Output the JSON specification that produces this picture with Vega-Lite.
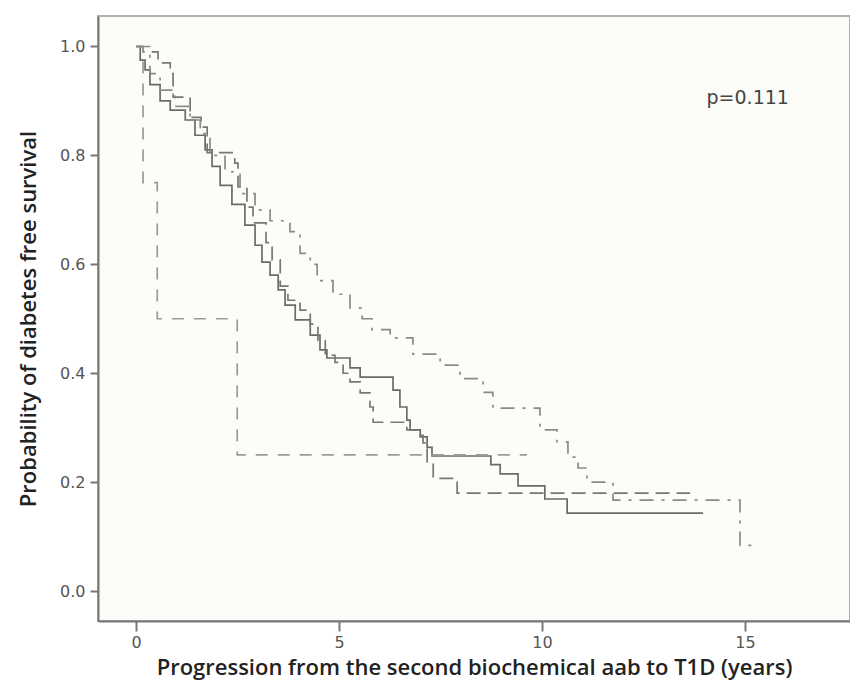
{
  "$schema": "https://vega.github.io/schema/vega-lite/v6.json",
  "width": 752,
  "height": 605,
  "autosize": {"type": "none"},
  "padding": {"left": 98, "top": 16, "right": 0, "bottom": 77},
  "background": "#ffffff",
  "view": {"fill": "#fcfcf9", "stroke": "#b0b0b0", "strokeWidth": 2},
  "config": {
    "font": "DejaVu Sans",
    "axis": {
      "grid": false,
      "domainColor": "#777777",
      "domainWidth": 2,
      "tickColor": "#777777",
      "tickWidth": 2,
      "labelColor": "#555555",
      "labelFont": "DejaVu Sans",
      "labelFontSize": 16,
      "titleFont": "Open Sans",
      "titleFontWeight": 600,
      "titleColor": "#222222",
      "titleFontSize": 22
    }
  },
  "datasets": {
    "curves": [
      {"g": "A", "t": 0, "s": 1.0},
      {"g": "A", "t": 0.1, "s": 0.975},
      {"g": "A", "t": 0.22, "s": 0.957},
      {"g": "A", "t": 0.34, "s": 0.93},
      {"g": "A", "t": 0.59, "s": 0.9},
      {"g": "A", "t": 0.84, "s": 0.883},
      {"g": "A", "t": 1.21, "s": 0.865},
      {"g": "A", "t": 1.45, "s": 0.837},
      {"g": "A", "t": 1.7, "s": 0.81},
      {"g": "A", "t": 1.87, "s": 0.78},
      {"g": "A", "t": 2.07, "s": 0.745},
      {"g": "A", "t": 2.36, "s": 0.71},
      {"g": "A", "t": 2.68, "s": 0.672},
      {"g": "A", "t": 2.93, "s": 0.635},
      {"g": "A", "t": 3.1, "s": 0.604},
      {"g": "A", "t": 3.3, "s": 0.58},
      {"g": "A", "t": 3.5, "s": 0.553},
      {"g": "A", "t": 3.67, "s": 0.525},
      {"g": "A", "t": 3.92, "s": 0.498},
      {"g": "A", "t": 4.29, "s": 0.47},
      {"g": "A", "t": 4.53, "s": 0.443},
      {"g": "A", "t": 4.7, "s": 0.428},
      {"g": "A", "t": 5.27, "s": 0.41},
      {"g": "A", "t": 5.52, "s": 0.393},
      {"g": "A", "t": 6.33, "s": 0.369},
      {"g": "A", "t": 6.5, "s": 0.338},
      {"g": "A", "t": 6.67, "s": 0.314},
      {"g": "A", "t": 6.75, "s": 0.296},
      {"g": "A", "t": 7.0, "s": 0.283},
      {"g": "A", "t": 7.17, "s": 0.264},
      {"g": "A", "t": 7.29, "s": 0.248},
      {"g": "A", "t": 8.74, "s": 0.232},
      {"g": "A", "t": 8.97, "s": 0.215},
      {"g": "A", "t": 9.41, "s": 0.193},
      {"g": "A", "t": 10.07, "s": 0.169},
      {"g": "A", "t": 10.62, "s": 0.143},
      {"g": "A", "t": 13.97, "s": 0.143},

      {"g": "B", "t": 0, "s": 1.0},
      {"g": "B", "t": 0.17, "s": 0.99},
      {"g": "B", "t": 0.54, "s": 0.97},
      {"g": "B", "t": 0.84, "s": 0.95},
      {"g": "B", "t": 0.91, "s": 0.907},
      {"g": "B", "t": 1.33, "s": 0.87},
      {"g": "B", "t": 1.6, "s": 0.852},
      {"g": "B", "t": 1.75, "s": 0.805},
      {"g": "B", "t": 2.43, "s": 0.786},
      {"g": "B", "t": 2.51, "s": 0.742},
      {"g": "B", "t": 2.73, "s": 0.705},
      {"g": "B", "t": 2.88, "s": 0.676},
      {"g": "B", "t": 3.2, "s": 0.64},
      {"g": "B", "t": 3.35, "s": 0.608},
      {"g": "B", "t": 3.55, "s": 0.56},
      {"g": "B", "t": 3.74, "s": 0.534},
      {"g": "B", "t": 4.04, "s": 0.516},
      {"g": "B", "t": 4.29, "s": 0.49},
      {"g": "B", "t": 4.48, "s": 0.46},
      {"g": "B", "t": 4.66, "s": 0.433},
      {"g": "B", "t": 4.9, "s": 0.42},
      {"g": "B", "t": 5.1, "s": 0.4},
      {"g": "B", "t": 5.27, "s": 0.384},
      {"g": "B", "t": 5.52, "s": 0.364},
      {"g": "B", "t": 5.76, "s": 0.338},
      {"g": "B", "t": 5.84, "s": 0.31},
      {"g": "B", "t": 6.67, "s": 0.296},
      {"g": "B", "t": 6.92, "s": 0.286},
      {"g": "B", "t": 7.07, "s": 0.272},
      {"g": "B", "t": 7.17, "s": 0.235},
      {"g": "B", "t": 7.32, "s": 0.207},
      {"g": "B", "t": 7.91, "s": 0.18},
      {"g": "B", "t": 13.65, "s": 0.18},

      {"g": "C", "t": 0, "s": 1.0},
      {"g": "C", "t": 0.17, "s": 0.75},
      {"g": "C", "t": 0.52, "s": 0.5},
      {"g": "C", "t": 2.49, "s": 0.25},
      {"g": "C", "t": 9.63, "s": 0.25},

      {"g": "D", "t": 0, "s": 1.0},
      {"g": "D", "t": 0.34, "s": 0.95},
      {"g": "D", "t": 0.59, "s": 0.92},
      {"g": "D", "t": 0.96, "s": 0.89},
      {"g": "D", "t": 1.33, "s": 0.865},
      {"g": "D", "t": 1.58, "s": 0.84},
      {"g": "D", "t": 1.82, "s": 0.8},
      {"g": "D", "t": 2.19, "s": 0.77},
      {"g": "D", "t": 2.56, "s": 0.73},
      {"g": "D", "t": 2.93, "s": 0.7},
      {"g": "D", "t": 3.3, "s": 0.68},
      {"g": "D", "t": 3.79, "s": 0.66},
      {"g": "D", "t": 4.04, "s": 0.62},
      {"g": "D", "t": 4.29, "s": 0.6},
      {"g": "D", "t": 4.46, "s": 0.57},
      {"g": "D", "t": 4.85, "s": 0.545},
      {"g": "D", "t": 5.27, "s": 0.52},
      {"g": "D", "t": 5.57, "s": 0.5},
      {"g": "D", "t": 5.81, "s": 0.48},
      {"g": "D", "t": 6.26, "s": 0.465},
      {"g": "D", "t": 6.82, "s": 0.435},
      {"g": "D", "t": 7.49, "s": 0.415},
      {"g": "D", "t": 7.98, "s": 0.39},
      {"g": "D", "t": 8.55, "s": 0.365},
      {"g": "D", "t": 8.79, "s": 0.336},
      {"g": "D", "t": 9.95, "s": 0.296},
      {"g": "D", "t": 10.37, "s": 0.274},
      {"g": "D", "t": 10.64, "s": 0.246},
      {"g": "D", "t": 10.89, "s": 0.226},
      {"g": "D", "t": 11.11, "s": 0.2},
      {"g": "D", "t": 11.75, "s": 0.167},
      {"g": "D", "t": 14.88, "s": 0.084},
      {"g": "D", "t": 15.17, "s": 0.084}
    ],
    "note": [{"t": 15.07, "s": 0.905, "label": "p=0.111"}]
  },
  "layer": [
    {
      "data": {"name": "curves"},
      "mark": {"type": "line", "interpolate": "step-after", "strokeWidth": 1.7, "clip": true},
      "encoding": {
        "x": {
          "field": "t", "type": "quantitative",
          "scale": {"domain": [-0.94, 17.59], "nice": false, "zero": false},
          "axis": {"values": [0, 5, 10, 15], "format": "d", "tickSize": 10, "labelPadding": 3, "title": "Progression from the second biochemical aab to T1D (years)", "titlePadding": 7}
        },
        "y": {
          "field": "s", "type": "quantitative",
          "scale": {"domain": [-0.055, 1.056], "nice": false, "zero": false},
          "axis": {"values": [0, 0.2, 0.4, 0.6, 0.8, 1.0], "format": ".1f", "tickSize": 8, "labelPadding": 5, "title": "Probability of diabetes free survival", "titlePadding": 19}
        },
        "detail": {"field": "g"},
        "color": {"field": "g", "type": "nominal", "legend": null, "scale": {"domain": ["A", "B", "C", "D"], "range": ["#6a6a6a", "#777777", "#9a9a9a", "#8a8a8a"]}},
        "strokeDash": {"field": "g", "type": "nominal", "legend": null, "scale": {"domain": ["A", "B", "C", "D"], "range": [[1, 0], [14, 7], [12, 10], [14, 8, 3, 8]]}}
      }
    },
    {
      "data": {"name": "note"},
      "mark": {"type": "text", "font": "DejaVu Sans", "fontSize": 19, "color": "#444444"},
      "encoding": {
        "x": {"field": "t", "type": "quantitative"},
        "y": {"field": "s", "type": "quantitative"},
        "text": {"field": "label"}
      }
    }
  ]
}
